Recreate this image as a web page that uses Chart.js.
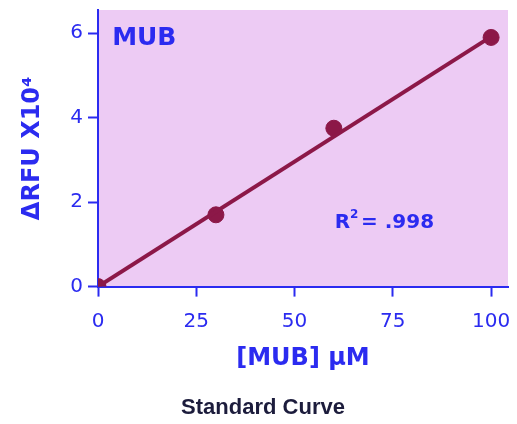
<!DOCTYPE html>
<html>
<head>
<meta charset="utf-8">
<script src="https://cdn.jsdelivr.net/npm/chart.js@4.4.0/dist/chart.umd.min.js"></script>
<style>
  html, body { margin: 0; padding: 0; background: #ffffff; }
  #wrap { width: 517px; height: 424px; }
</style>
</head>
<body>
<div id="wrap"><canvas id="lineChart" width="517" height="424"></canvas></div>
<script>
// standard curve data (MUB in uM, delta RFU x10^4)
var concMUB = [0, 30, 60, 100];
var deltaRFU = [0, 1.7, 3.75, 5.9];
// fitted line ends
var fitX = [0, 100];
var fitY = [0, 5.92];
var xTicks = [0, 25, 50, 75, 100];
var yTicks = [0, 2, 4, 6];
var rSquared = ".998";

var blue = "#2b2bf0";
var maroon = "#8c1848";
var plotBg = "#edcbf4";

// pink plot background + in-plot labels
var extras = {
  id: "extras",
  beforeDraw: function (chart) {
    var a = chart.chartArea, ctx = chart.ctx;
    ctx.save();
    ctx.fillStyle = plotBg;
    ctx.fillRect(a.left, a.top, a.right - a.left, a.bottom - a.top);
    ctx.restore();
  },
  afterDraw: function (chart) {
    var ctx = chart.ctx, xs = chart.scales.x, ys = chart.scales.y;
    ctx.save();
    ctx.fillStyle = blue;
    ctx.textBaseline = "middle";
    ctx.font = "bold 25px 'DejaVu Sans'";
    ctx.fillText("MUB", xs.getPixelForValue(3.6), ys.getPixelForValue(5.88));

    var px = xs.getPixelForValue(60.2), py = ys.getPixelForValue(1.5);
    ctx.font = "bold 20px 'DejaVu Sans'";
    ctx.fillText("R", px, py);
    var w = ctx.measureText("R").width;
    ctx.font = "bold 12px 'DejaVu Sans'";
    ctx.fillText("2", px + w, py - 8);
    ctx.font = "bold 20px 'DejaVu Sans'";
    ctx.fillText(" = " + rSquared, px + w + 4, py);
    ctx.restore();
  }
};

var ctx = document.getElementById("lineChart").getContext("2d");
var myChart = new Chart(ctx, {
  type: "scatter",
  data: {
    datasets: [{
      label: "fit",
      data: fitX.map(function (x, i) { return { x: x, y: fitY[i] }; }),
      showLine: true,
      borderColor: maroon,
      borderWidth: 4,
      pointRadius: 0
    }, {
      label: "MUB",
      data: concMUB.map(function (x, i) { return { x: x, y: deltaRFU[i] }; }),
      showLine: false,
      backgroundColor: maroon,
      borderColor: maroon,
      pointRadius: 8
    }]
  },
  options: {
    responsive: false,
    animation: false,
    layout: { padding: { left: 18, right: 9, top: 10, bottom: 0 } },
    plugins: {
      legend: { display: false },
      tooltip: { enabled: false },
      title: {
        display: true,
        position: "bottom",
        text: "Standard Curve",
        color: "#1c1c3c",
        font: { family: "'Liberation Sans'", size: 22, weight: "bold" },
        padding: { top: 10, bottom: 3 }
      }
    },
    scales: {
      x: {
        type: "linear",
        min: 0,
        max: 104.3,
        afterBuildTicks: function (s) { s.ticks = xTicks.map(function (v) { return { value: v }; }); },
        afterFit: function (s) { s.height = 98; s.paddingLeft = 0; s.paddingRight = 0; },
        border: { display: true, color: blue, width: 2 },
        grid: { drawOnChartArea: false, drawTicks: true, tickLength: 10, tickWidth: 2, tickColor: blue },
        ticks: { color: blue, padding: 13, font: { family: "'DejaVu Sans'", size: 20 } },
        title: {
          display: true, text: "[MUB] \u00b5M", color: blue,
          font: { family: "'DejaVu Sans'", size: 24, weight: "bold" },
          padding: { top: 4, bottom: 11 }
        }
      },
      y: {
        type: "linear",
        min: 0,
        max: 6.55,
        afterBuildTicks: function (s) { s.ticks = yTicks.map(function (v) { return { value: v }; }); },
        afterFit: function (s) { s.width = 80; s.paddingTop = 0; s.paddingBottom = 0; },
        border: { display: true, color: blue, width: 2 },
        grid: { drawOnChartArea: false, drawTicks: true, tickLength: 10, tickWidth: 2, tickColor: blue },
        ticks: { color: blue, padding: 5, font: { family: "'DejaVu Sans'", size: 20 } },
        title: {
          display: true, text: "\u0394RFU X10\u2074", color: blue,
          font: { family: "'DejaVu Sans'", size: 24, weight: "bold" },
          padding: { top: 0, bottom: 0 }
        }
      }
    }
  },
  plugins: [extras]
});
</script>
</body>
</html>
